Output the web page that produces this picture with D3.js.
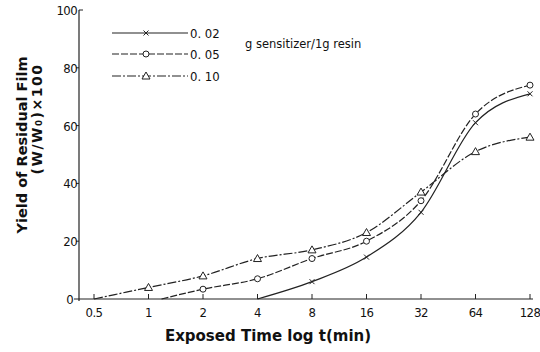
<!DOCTYPE html>
<html>
<head>
<meta charset="utf-8">
<script src="https://cdn.jsdelivr.net/npm/d3@7"></script>
<style>
  body { margin: 0; background: #fff; }
  svg text { fill: #111; }
</style>
</head>
<body>
<svg id="chart" width="540" height="352"></svg>
<script>
// tiempos de exposición (min) y marcas del eje
var xTicks = [0.5, 1, 2, 4, 8, 16, 32, 64, 128];
var yTicks = [0, 20, 40, 60, 80, 100];

// series: g de sensibilizador por 1 g de resina
var t002 = [4, 8, 16, 32, 64, 128];
var v002 = [0, 6, 14.5, 30, 61, 71];

var t005 = [1.18, 2, 4, 8, 16, 32, 64, 128];
var v005 = [0, 3.4, 7, 14, 20, 34, 64, 74];

var t010 = [0.5, 1, 2, 4, 8, 16, 32, 64, 128];
var v010 = [0, 4, 8, 14, 17, 23, 37, 51, 56];

var labels = ["0. 02", "0. 05", "0. 10"];

var svg = d3.select("#chart");

var x = d3.scaleLog().base(2).domain([0.5, 128]).range([94, 530]);
var y = d3.scaleLinear().domain([0, 100]).range([299, 10]);

// ejes
var gx = svg.append("g").attr("transform", "translate(0,299)");
gx.append("line").attr("x1", 74).attr("x2", 533).attr("stroke", "#222").attr("stroke-width", 1.2);
gx.selectAll(".tk").data(xTicks).enter().append("line")
  .attr("x1", d => x(d)).attr("x2", d => x(d))
  .attr("y1", 0).attr("y2", -5)
  .attr("stroke", "#222");
gx.selectAll(".lb").data(xTicks).enter().append("text")
  .attr("x", d => x(d)).attr("y", 18)
  .attr("text-anchor", "middle")
  .style("font-family", "DejaVu Sans")
  .style("font-stretch", "condensed")
  .style("font-size", "13px")
  .style("letter-spacing", "-0.6px")
  .text(d => d);

var gy = svg.append("g").attr("transform", "translate(79,0)");
gy.append("line").attr("y1", y(100)).attr("y2", 301).attr("stroke", "#222").attr("stroke-width", 1.2);
gy.append("line").attr("x1", 0).attr("x2", 4).attr("y1", y(100)).attr("y2", y(100)).attr("stroke", "#222");
gy.selectAll(".tk").data(yTicks.slice(1, 5)).enter().append("line")
  .attr("x1", -3).attr("x2", 0)
  .attr("y1", d => y(d)).attr("y2", d => y(d))
  .attr("stroke", "#222");
gy.selectAll(".lb").data(yTicks).enter().append("text")
  .attr("x", d => d == 0 ? -6 : -2).attr("y", d => y(d) + 5)
  .attr("text-anchor", "end")
  .style("font-family", "DejaVu Sans")
  .style("font-stretch", "condensed")
  .style("font-size", "13px")
  .style("letter-spacing", "-0.6px")
  .text(d => d);

// títulos de los ejes
svg.append("text")
  .attr("x", 268).attr("y", 341)
  .attr("text-anchor", "middle")
  .style("font-family", "DejaVu Sans")
  .style("font-weight", "bold")
  .style("font-size", "15px")
  .text("Exposed Time log t(min)");

svg.append("text")
  .attr("transform", "translate(27,145) rotate(-90)")
  .attr("text-anchor", "middle")
  .style("font-family", "DejaVu Sans")
  .style("font-weight", "bold")
  .style("font-size", "14.5px")
  .text("Yield of Residual Film");

svg.append("text")
  .attr("transform", "translate(42,119) rotate(-90)")
  .attr("text-anchor", "middle")
  .style("font-family", "DejaVu Sans")
  .style("font-weight", "bold")
  .style("font-size", "14px")
  .style("letter-spacing", "1.5px")
  .text("(W/W₀)×100");

// curvas
var series = [
  { t: t002, v: v002, mark: "x", dash: null },
  { t: t005, v: v005, mark: "o", dash: "7,2" },
  { t: t010, v: v010, mark: "tri", dash: "9,2,2,2" }
];

var line = d3.line()
  .x(d => x(d[0])).y(d => y(d[1]))
  .curve(d3.curveMonotoneX);

function drawMark(g, type, cx, cy) {
  if (type == "x") {
    g.append("path")
      .attr("d", `M${cx - 2.5},${cy - 2.5}L${cx + 2.5},${cy + 2.5}M${cx - 2.5},${cy + 2.5}L${cx + 2.5},${cy - 2.5}`)
      .attr("stroke", "#222").attr("stroke-width", 1);
  } else if (type == "o") {
    g.append("circle").attr("cx", cx).attr("cy", cy).attr("r", 3)
      .attr("fill", "#fff").attr("stroke", "#222").attr("stroke-width", 1);
  } else {
    g.append("path")
      .attr("d", `M${cx},${cy - 4}L${cx + 4},${cy + 3}L${cx - 4},${cy + 3}Z`)
      .attr("fill", "#fff").attr("stroke", "#222").attr("stroke-width", 1);
  }
}

series.forEach(function (s) {
  var pts = s.t.map((t, i) => [t, s.v[i]]);
  svg.append("path")
    .datum(pts)
    .attr("d", line)
    .attr("fill", "none")
    .attr("stroke", "#222")
    .attr("stroke-width", 1.2)
    .attr("stroke-dasharray", s.dash);
  var g = svg.append("g");
  pts.filter(p => p[1] > 0).forEach(p => drawMark(g, s.mark, x(p[0]), y(p[1])));
});

// leyenda
var legY = [33, 54, 76];
series.forEach(function (s, i) {
  svg.append("line")
    .attr("x1", 112).attr("x2", 188)
    .attr("y1", legY[i]).attr("y2", legY[i])
    .attr("stroke", "#222").attr("stroke-width", 1.2)
    .attr("stroke-dasharray", s.dash);
  drawMark(svg, s.mark, 146, legY[i]);
  svg.append("text")
    .attr("x", 190).attr("y", legY[i] + 5)
    .style("font-family", "DejaVu Sans")
    .style("font-stretch", "condensed")
    .style("font-size", "13px")
    .text(labels[i]);
});
svg.append("text")
  .attr("x", 245).attr("y", 48)
  .style("font-family", "DejaVu Sans")
  .style("font-size", "11.5px")
  .text("g sensitizer/1g resin");
</script>
</body>
</html>
